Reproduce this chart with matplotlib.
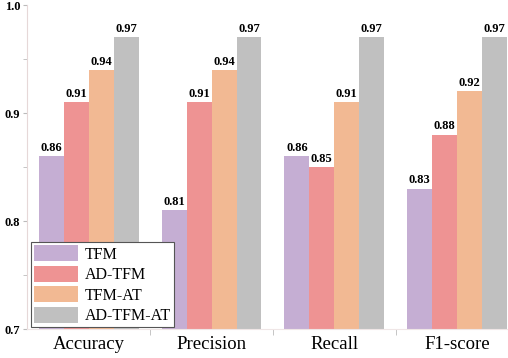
import matplotlib
matplotlib.use("Agg")
import matplotlib.pyplot as plt
import numpy as np
from matplotlib.ticker import MultipleLocator

categories = ["Accuracy", "Precision", "Recall", "F1-score"]
series_names = ["TFM", "AD-TFM", "TFM-AT", "AD-TFM-AT"]
tfm = [0.86, 0.81, 0.86, 0.83]
ad_tfm = [0.91, 0.91, 0.85, 0.88]
tfm_at = [0.94, 0.94, 0.91, 0.92]
ad_tfm_at = [0.97, 0.97, 0.97, 0.97]
colors = ["#C5AED3", "#EE9393", "#F2B993", "#C0C0C0"]

plt.rcParams['font.family'] = ['Liberation Serif', 'DejaVu Serif']

fig = plt.figure(figsize=(5.08, 3.58), dpi=100)
ax = fig.add_axes([27/508, 29/358, 1 - 27/508, (329-5)/358])

x = np.arange(len(categories))
w = 0.203
data = [tfm, ad_tfm, tfm_at, ad_tfm_at]
for i, (vals, name, c) in enumerate(zip(data, series_names, colors)):
    pos = x + (i - 1.5) * w
    ax.bar(pos, vals, width=w, color=c, label=name, bottom=0)
    for xp, v in zip(pos, vals):
        ax.text(xp, v + 0.002, f"{v:.2f}", ha='center', va='bottom',
                fontsize=9, fontweight='bold')

ax.set_ylim(0.7, 1.0)
ax.set_xlim(-0.504, 3.415)
ax.set_yticks([0.7, 0.8, 0.9, 1.0])
ax.set_yticks([0.75, 0.85, 0.95], minor=True)
ax.set_yticklabels(["0.7", "0.8", "0.9", "1.0"], fontweight='bold', fontsize=9)
ax.set_xticks(x)
ax.set_xticklabels(categories, fontsize=13.5)
ax.set_xticks(x[:-1] + 0.5, minor=True)
ax.tick_params(axis='x', which='major', length=0, pad=5)
ax.tick_params(axis='x', which='minor', length=4, color='#bbbbbb', direction='out')
ax.tick_params(axis='y', which='both', length=3, color='#bbbbbb', pad=2)
for s in ['top', 'right']:
    ax.spines[s].set_visible(False)
ax.spines['left'].set_color('#E6D8D8')
ax.spines['bottom'].set_color('#EFE6E6')

leg = ax.legend(loc='lower left', bbox_to_anchor=(0.004, 0.0), fontsize=11.5,
                frameon=True, fancybox=False, edgecolor='#555555', framealpha=1,
                handlelength=2.8, handleheight=1.15, labelspacing=0.2,
                borderpad=0.2, handletextpad=0.4, borderaxespad=0.1)
leg.get_frame().set_linewidth(0.8)

fig.savefig("out.png", dpi=100)
